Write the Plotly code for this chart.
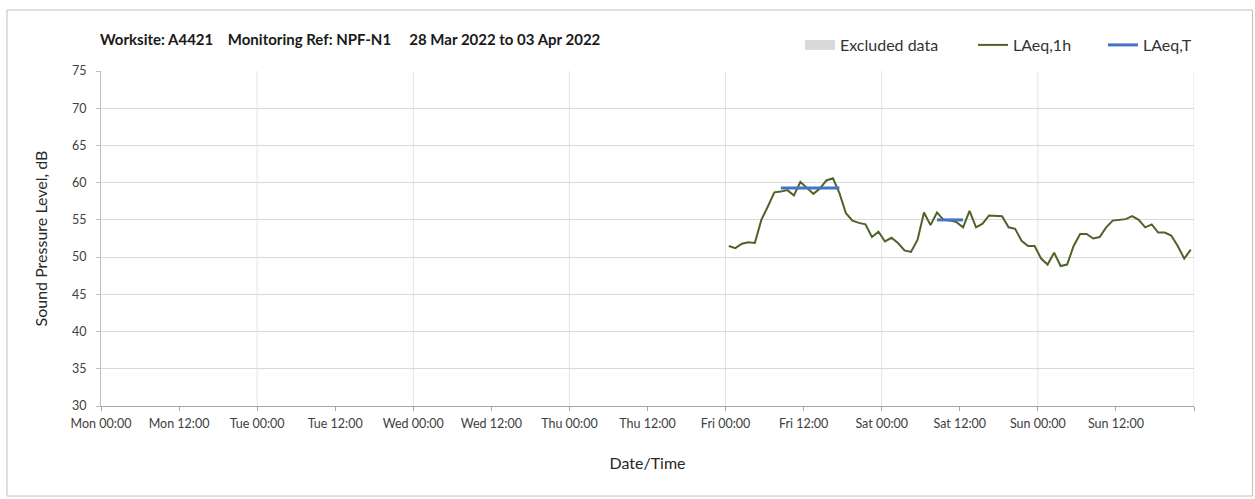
import pandas as pd
import plotly.graph_objects as go

# ---------------- data ----------------
laeq_1h_start = "2022-04-01 00:30"
laeq_1h = [
    51.5, 51.2, 51.8, 52.0, 51.9, 55.0, 56.8, 58.7, 58.8, 59.0, 58.3, 60.1,
    59.3, 58.5, 59.2, 60.3, 60.6, 58.6, 55.9, 54.9, 54.6, 54.4, 52.7, 53.4,
    52.1, 52.6, 51.9, 50.9, 50.7, 52.3, 56.0, 54.3, 56.0, 55.0, 54.9, 54.7,
    54.0, 56.2, 54.0, 54.5, 55.6, 55.5, 55.5, 54.0, 53.8, 52.2, 51.5, 51.5,
    49.8, 49.0, 50.6, 48.8, 49.0, 51.5, 53.1, 53.1, 52.5, 52.7, 54.0, 54.9,
    55.0, 55.1, 55.5, 55.0, 54.0, 54.4, 53.3, 53.3, 52.9, 51.5, 49.8, 51.0,
]
laeq_1h_times = pd.date_range(laeq_1h_start, periods=len(laeq_1h), freq="h")

laeq_t_start = ["2022-04-01 08:30", "2022-04-02 08:30"]
laeq_t_end = ["2022-04-01 17:30", "2022-04-02 12:30"]
laeq_t_values = [59.3, 55.0]

tick_times = [
    "2022-03-28 00:00", "2022-03-28 12:00", "2022-03-29 00:00", "2022-03-29 12:00",
    "2022-03-30 00:00", "2022-03-30 12:00", "2022-03-31 00:00", "2022-03-31 12:00",
    "2022-04-01 00:00", "2022-04-01 12:00", "2022-04-02 00:00", "2022-04-02 12:00",
    "2022-04-03 00:00", "2022-04-03 12:00", "2022-04-04 00:00",
]
tick_labels = [
    "Mon 00:00", "Mon 12:00", "Tue 00:00", "Tue 12:00", "Wed 00:00", "Wed 12:00",
    "Thu 00:00", "Thu 12:00", "Fri 00:00", "Fri 12:00", "Sat 00:00", "Sat 12:00",
    "Sun 00:00", "Sun 12:00", "",
]
day_grid = ["2022-03-29", "2022-03-30", "2022-03-31", "2022-04-01",
            "2022-04-02", "2022-04-03", "2022-04-04"]

x_range = ["2022-03-28 00:00", "2022-04-04 00:00"]
y_range = [30, 75]

title_text = ("Worksite: A4421\u00a0\u00a0\u00a0\u00a0Monitoring Ref: NPF-N1"
              "\u00a0\u00a0\u00a0\u00a0\u00a028 Mar 2022 to 03 Apr 2022")

# ---------------- figure ----------------
FONT = "Lato"
fig = go.Figure()

fig.add_trace(go.Scatter(
    x=[None], y=[None], mode="lines", name="Excluded data",
    line=dict(color="#D9D9D9", width=10), legend="legend",
))
fig.add_trace(go.Scatter(
    x=laeq_1h_times, y=laeq_1h, mode="lines", name="LAeq,1h",
    line=dict(color="#4F6228", width=2), legend="legend2",
))
bx, by = [], []
for s, e, v in zip(laeq_t_start, laeq_t_end, laeq_t_values):
    bx += [s, e, None]
    by += [v, v, None]
fig.add_trace(go.Scatter(
    x=bx, y=by, mode="lines", name="LAeq,T",
    line=dict(color="#4472C4", width=3), legend="legend3",
))

shapes = []
for d in day_grid:
    shapes.append(dict(type="line", xref="x", yref="y", x0=d, x1=d,
                       y0=y_range[0], y1=y_range[1],
                       line=dict(color="#E3E3E3", width=1), layer="below"))
# outer chart border
shapes.append(dict(type="rect", xref="paper", yref="paper",
                   x0=-0.0860, x1=1.0535, y0=-0.2687, y1=1.1821,
                   line=dict(color="#BFBFBF", width=1), layer="below"))

leg_common = dict(orientation="h", xanchor="left", yanchor="middle",
                  y=(406 - 45) / 335, bgcolor="rgba(0,0,0,0)", itemwidth=30,
                  font=dict(family=FONT, size=16, color="#333333"))

fig.update_layout(
    width=1255, height=499,
    margin=dict(l=101, r=61, t=71, b=93),
    paper_bgcolor="white", plot_bgcolor="white",
    font=dict(family=FONT, size=12, color="#404040"),
    title=dict(text="<b>" + title_text + "</b>", x=100 / 1255, xanchor="left",
               y=1 - 40 / 499, yanchor="middle",
               font=dict(family=FONT, size=15, color="#1a1a1a")),
    legend=dict(x=(800 - 101) / 1093, **leg_common),
    legend2=dict(x=(973 - 101) / 1093, **leg_common),
    legend3=dict(x=(1103 - 101) / 1093, **leg_common),
    shapes=shapes,
    showlegend=True,
)

fig.update_xaxes(
    type="date", range=x_range,
    tickmode="array", tickvals=tick_times, ticktext=tick_labels,
    showgrid=False, zeroline=False,
    showline=True, linecolor="#A6A6A6", linewidth=1,
    ticks="outside", ticklen=4, tickcolor="#A6A6A6", ticklabelstandoff=2,
    tickfont=dict(family=FONT, size=12.5, color="#404040"),
    title=dict(text="Date/Time", standoff=27, font=dict(family=FONT, size=16, color="#262626")),
)
fig.update_yaxes(
    range=y_range, dtick=5, tick0=30,
    showgrid=True, gridcolor="#D9D9D9", gridwidth=1, zeroline=False,
    showline=True, linecolor="#BFBFBF", linewidth=1,
    ticks="outside", ticklen=4, tickcolor="#BFBFBF", ticklabelstandoff=7,
    tickfont=dict(family=FONT, size=12.5, color="#404040"),
    title=dict(text="Sound Pressure Level, dB", standoff=20,
               font=dict(family=FONT, size=16, color="#262626")),
)

fig.write_html(
    "out.html",
    config={"displayModeBar": False},
    post_script="document.body.style.margin='0px';document.body.style.overflow='hidden';",
)
